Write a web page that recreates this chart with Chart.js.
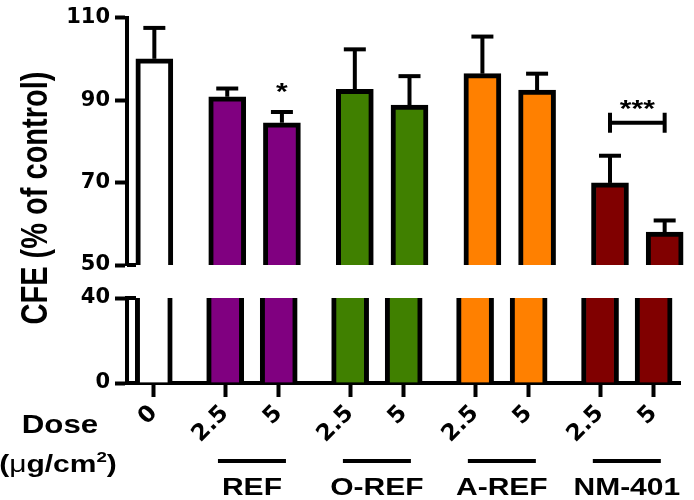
<!DOCTYPE html>
<html>
<head>
<meta charset="utf-8">
<script src="https://cdn.jsdelivr.net/npm/chart.js@4"></script>
<style>
    body { margin: 0; background: #fff; }
    #wrap { position: relative; width: 694px; height: 500px; }
    #wrap canvas { position: absolute; left: 0; top: 0; }
</style>
</head>
<body>
<div id="wrap">
    <canvas id="topChart" width="694" height="500"></canvas>
    <canvas id="bottomChart" width="694" height="500"></canvas>
</div>
<script>
// Data
const doses = ['0', '2.5', '5', '2.5', '5', '2.5', '5', '2.5', '5'];
const groups = ['', 'REF', 'REF', 'O-REF', 'O-REF', 'A-REF', 'A-REF', 'NM-401', 'NM-401'];
const cfeMean = [100, 90.8, 84.5, 92.6, 88.8, 96.4, 92.4, 69.9, 58.0];
const cfeSem = [7.5, 2.0, 2.6, 9.7, 7.0, 9.0, 4.0, 6.6, 2.8];
const sigMarks = ['', '', '*', '', '', '', '', '', ''];
const bracketBars = [7, 8];
const bracketLevel = 84.5;
const bracketLabel = '***';
const topTicks = [50, 70, 90, 110];
const bottomTicks = [0, 40];

const barColors = ['#ffffff', '#800080', '#800080', '#408000', '#408000', '#ff8000', '#ff8000', '#800000', '#800000'];

// Build category slots with spacers so the pairs sit closer than the groups
const slotLabels = [''];
const slotOfBar = [];
doses.forEach((d, i) => {
    if (i > 0) {
        const gap = groups[i] === groups[i - 1] ? 2 : 3;
        for (let k = 0; k < gap; k++) slotLabels.push('');
    }
    slotOfBar.push(slotLabels.length);
    slotLabels.push(d);
});
slotLabels.push('');

const slotValues = slotLabels.map(() => null);
const slotColors = slotLabels.map(() => '#fff');
slotOfBar.forEach((s, i) => {
    slotValues[s] = cfeMean[i];
    slotColors[s] = barColors[i];
});

const SANS = '"Liberation Sans", Arial, sans-serif';
const Y_TICK_FONT = { family: '"DejaVu Sans", sans-serif', weight: 'bold', size: 21 };
const X_TICK_FONT = { family: '"DejaVu Sans", sans-serif', weight: 'bold', size: 23 };

// Draw text stretched horizontally like the original figure
function wideText(ctx, text, x, y, size, align) {
    ctx.save();
    ctx.font = 'bold ' + size + 'px ' + SANS;
    ctx.textAlign = align || 'center';
    ctx.textBaseline = 'alphabetic';
    ctx.translate(x, y);
    ctx.scale(1.25, 1);
    ctx.fillText(text, 0, 0);
    ctx.restore();
}

function line(ctx, x1, y1, x2, y2, w) {
    ctx.beginPath();
    ctx.moveTo(x1, y1);
    ctx.lineTo(x2, y2);
    ctx.lineWidth = w;
    ctx.strokeStyle = '#000';
    ctx.stroke();
}

function makeChart(id, yMin, yMax, yTicks, isTop, plugin) {
    return new Chart(document.getElementById(id), {
        type: 'bar',
        data: {
            labels: slotLabels,
            datasets: [{
                data: slotValues,
                backgroundColor: slotColors,
                borderColor: '#000',
                borderWidth: 5,
                barThickness: 37,
                clip: 0
            }]
        },
        options: {
            responsive: false,
            animation: false,
            events: [],
            layout: {
                padding: isTop ? { top: 14, bottom: 235, left: 0, right: 2 } : { top: 298, bottom: 0, left: 0, right: 2 }
            },
            plugins: {
                legend: { display: false },
                tooltip: { enabled: false }
            },
            scales: {
                x: {
                    type: 'category',
                    display: !isTop,
                    offset: true,
                    afterFit: s => { if (!isTop) s.height = 117; },
                    border: { color: '#000', width: 4 },
                    grid: {
                        offset: false,
                        drawOnChartArea: false,
                        tickLength: 14,
                        tickWidth: 4,
                        tickColor: ctx => slotLabels[ctx.index] ? '#000' : 'rgba(0,0,0,0)'
                    },
                    ticks: {
                        autoSkip: false,
                        minRotation: 45,
                        maxRotation: 45,
                        padding: 3,
                        color: '#000',
                        font: X_TICK_FONT
                    }
                },
                y: {
                    min: yMin,
                    max: yMax,
                    afterBuildTicks: s => { s.ticks = yTicks.map(v => ({ value: v })); },
                    afterFit: s => { s.width = 127; },
                    border: { color: '#000', width: 4 },
                    grid: { drawOnChartArea: false, tickLength: 12, tickWidth: 4, tickColor: '#000' },
                    ticks: { padding: 5, color: '#000', font: Y_TICK_FONT }
                }
            }
        },
        plugins: [plugin]
    });
}

// Error bars, stars and the bracket live in the upper panel
const topExtras = {
    id: 'topExtras',
    afterDatasetsDraw(chart) {
        const ctx = chart.ctx;
        const y = chart.scales.y;
        const bars = chart.getDatasetMeta(0).data;
        ctx.save();
        ctx.fillStyle = '#000';
        cfeMean.forEach((m, i) => {
            const x = bars[slotOfBar[i]].x;
            const top = y.getPixelForValue(m);
            const cap = y.getPixelForValue(m + cfeSem[i]);
            line(ctx, x, top, x, cap, 4);
            line(ctx, x - 11, cap, x + 11, cap, 4);
            if (sigMarks[i]) wideText(ctx, sigMarks[i], x, cap - 11.6, 24);
        });
        const bx1 = bars[slotOfBar[bracketBars[0]]].x;
        const bx2 = bars[slotOfBar[bracketBars[1]]].x;
        const by = y.getPixelForValue(bracketLevel);
        line(ctx, bx1, by, bx2, by, 4);
        line(ctx, bx1, by - 10, bx1, by + 10, 4);
        line(ctx, bx2, by - 10, bx2, by + 10, 4);
        wideText(ctx, bracketLabel, (bx1 + bx2) / 2, by - 5.6, 24);
        // break stub on the axis end
        const a = chart.chartArea;
        line(ctx, a.left, a.bottom, a.left + 9, a.bottom, 4);
        ctx.restore();
    }
};

// Axis title, dose caption and group labels in the lower panel
const bottomExtras = {
    id: 'bottomExtras',
    afterDraw(chart) {
        const ctx = chart.ctx;
        const a = chart.chartArea;
        const bars = chart.getDatasetMeta(0).data;
        ctx.save();
        ctx.fillStyle = '#000';
        line(ctx, a.left, a.top, a.left + 9, a.top, 4);

        // y axis title spanning both panels
        ctx.save();
        ctx.translate(47, 198);
        ctx.rotate(-Math.PI / 2);
        ctx.scale(1, 1.25);
        ctx.font = 'bold 29px ' + SANS;
        ctx.textAlign = 'center';
        ctx.textBaseline = 'alphabetic';
        ctx.fillText('CFE (% of control)', 0, 0);
        ctx.restore();

        wideText(ctx, 'Dose', 60, 433, 25);

        // (μg/cm²) built piece by piece
        const pieces = [
            { t: '(', f: 'bold 24px ' + SANS, dy: 0 },
            { t: 'μ', f: '24px ' + SANS, dy: 0 },
            { t: 'g/cm', f: 'bold 24px ' + SANS, dy: 0 },
            { t: '2', f: 'bold 15px ' + SANS, dy: -10 },
            { t: ')', f: 'bold 24px ' + SANS, dy: 0 }
        ];
        let total = 0;
        pieces.forEach(p => { ctx.font = p.f; p.w = ctx.measureText(p.t).width * 1.25; total += p.w; });
        let px = 58 - total / 2;
        pieces.forEach(p => {
            ctx.save();
            ctx.font = p.f;
            ctx.textAlign = 'left';
            ctx.translate(px, 472 + p.dy);
            ctx.scale(1.25, 1);
            ctx.fillText(p.t, 0, 0);
            ctx.restore();
            px += p.w;
        });

        // group underlines and names
        for (let i = 1; i < groups.length; i += 2) {
            const cx = (bars[slotOfBar[i]].x + bars[slotOfBar[i + 1]].x) / 2;
            line(ctx, cx - 34, 461, cx + 34, 461, 4);
            wideText(ctx, groups[i], cx, 495, 24);
        }
        ctx.restore();
    }
};

makeChart('topChart', 50, 110, topTicks, true, topExtras);
makeChart('bottomChart', 0, 40, bottomTicks, false, bottomExtras);
</script>
</body>
</html>
